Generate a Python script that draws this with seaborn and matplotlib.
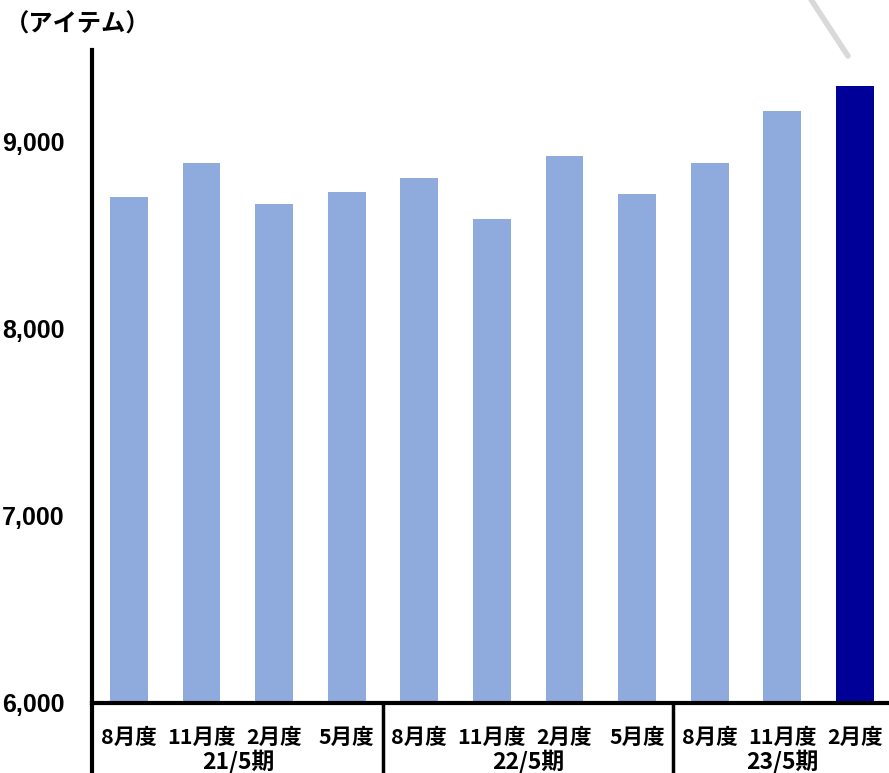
import matplotlib
matplotlib.use("Agg")
import matplotlib.pyplot as plt
from matplotlib.lines import Line2D
import seaborn as sns
import pandas as pd

sns.set_theme(style="white")
plt.rcParams['font.family'] = ['Noto Sans CJK JP', 'DejaVu Sans']

periods = ["21/5期"] * 4 + ["22/5期"] * 4 + ["23/5期"] * 3
months = ["8月度", "11月度", "2月度", "5月度",
          "8月度", "11月度", "2月度", "5月度",
          "8月度", "11月度", "2月度"]
values = [8701, 8883, 8664, 8728, 8803, 8584, 8920, 8717, 8883, 9160, 9293]
group_labels = ["21/5期", "22/5期", "23/5期"]
yticks = [6000, 7000, 8000, 9000]
unit_label = "（アイテム）"

light = "#8faadc"
dark = "#000099"

df = pd.DataFrame({"period": periods, "month": months, "value": values})
df["slot"] = [f"{p}-{m}-{i}" for i, (p, m) in enumerate(zip(periods, months))]
palette = {s: (dark if i == len(df) - 1 else light) for i, s in enumerate(df["slot"])}

W, H = 889, 773
fig = plt.figure(figsize=(W / 100, H / 100), dpi=100)
ax = fig.add_axes([92 / W, (H - 703) / H, (W - 92) / W, (703 - 50) / H])

sns.barplot(data=df, x="slot", y="value", hue="slot", palette=palette,
            order=list(df["slot"]), legend=False, width=0.52, ax=ax,
            saturation=1, linewidth=0)

ax.set_xlim(-0.51, 10.47)
ax.set_ylim(6000, 9486)
ax.set_yticks(yticks)
ax.set_yticklabels([f"{v:,}" for v in yticks], fontsize=18, fontweight="bold",
                   family=["Liberation Sans", "DejaVu Sans"], color="black")
ax.tick_params(axis="y", length=0, pad=19.5)
ax.set_xticks([])
ax.set_xlabel("")
ax.set_ylabel("")

for side in ["top", "right"]:
    ax.spines[side].set_visible(False)
for side in ["left", "bottom"]:
    ax.spines[side].set_linewidth(3)
    ax.spines[side].set_color("black")

tr = ax.get_xaxis_transform()
for xv in [-0.51, 3.5, 7.5]:
    ax.add_line(Line2D([xv, xv], [0, -0.11], transform=tr, color="black",
                       lw=3 if xv < 0 else 2.5, clip_on=False))

for i, m in enumerate(months):
    ax.text(i, -0.052, m, transform=tr, ha="center", va="center",
            fontsize=15.5, fontweight="bold", color="black")

for g, xc in zip(group_labels, [1.5, 5.5, 9.0]):
    ax.text(xc, -0.089, g, transform=tr, ha="center", va="center",
            fontsize=16.5, fontweight="bold", color="black")

fig.text(5 / W, 1 - 25 / H, unit_label, ha="left", va="center",
         fontsize=17.5, fontweight="bold", color="black")

fig.add_artist(Line2D([808 / W, 848 / W], [1 + 5 / H, 1 - 56 / H],
                      transform=fig.transFigure, color="#d9d9d9", lw=4))

fig.savefig("out.png", dpi=100)
